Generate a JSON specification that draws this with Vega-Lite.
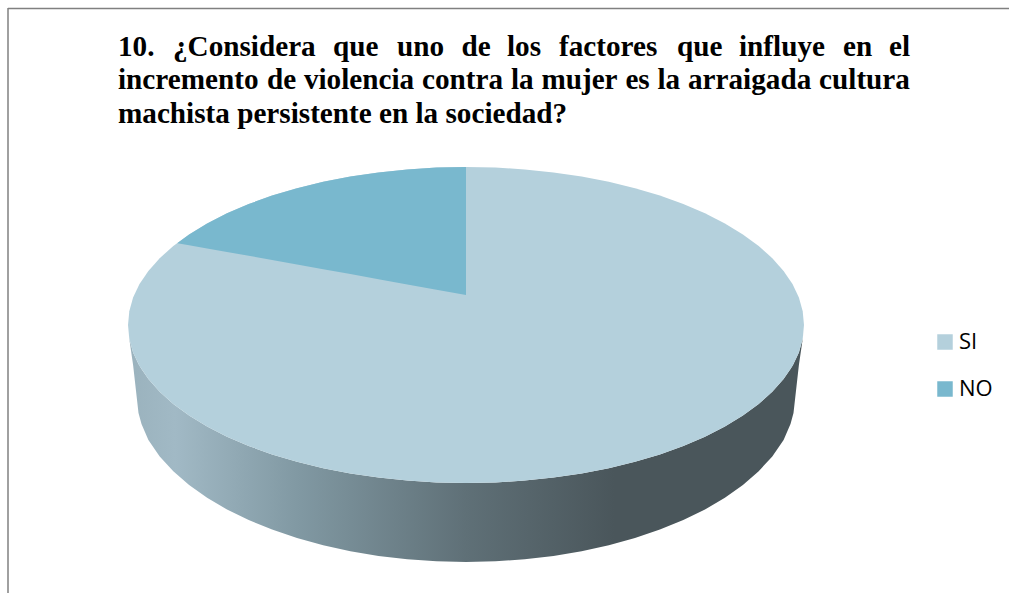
{
"$schema":"https://vega.github.io/schema/vega-lite/v6.json",
"width":1009,"height":593,"padding":0,"autosize":{"type":"none"},
"background":"#ffffff",
"view":{"stroke":null},
"config":{"view":{"stroke":null}},
"resolve":{"scale":{"x":"shared","y":"shared"}},
"layer":[
{"data":{"values":[
{"px":8,"px2":1009,"py":8.5,"py2":8.5},
{"px":8,"px2":8,"py":8,"py2":593}
]},
"mark":{"type":"rule","color":"#808080","strokeWidth":1.5},
"encoding":{
"x":{"field":"px","type":"quantitative","scale":{"domain":[0,1009],"nice":false,"zero":false},"axis":null},
"x2":{"field":"px2"},
"y":{"field":"py","type":"quantitative","scale":{"domain":[593,0],"nice":false,"zero":false},"axis":null},
"y2":{"field":"py2"}
}},
{"data":{"values":[
{"px":128,"top":325,"bottom":325},{"px":129.3,"top":338.8,"bottom":339},{"px":133.1,"top":352.4,"bottom":365},{"px":138.5,"top":364,"bottom":413},{"px":141.5,"top":369,"bottom":424},{"px":148.4,"top":379,"bottom":440.1},{"px":159.7,"top":391.8,"bottom":456.4},{"px":173.3,"top":404,"bottom":471.2},{"px":189.1,"top":415.6,"bottom":484.9},{"px":207.1,"top":426.6,"bottom":497.7},{"px":227,"top":436.7,"bottom":509.4},{"px":248.7,"top":446,"bottom":520},{"px":272.1,"top":454.4,"bottom":529.6},{"px":297,"top":461.8,"bottom":538},{"px":323.2,"top":468.2,"bottom":545.3},{"px":350.4,"top":473.5,"bottom":551.2},{"px":378.5,"top":477.6,"bottom":555.9},{"px":407.3,"top":480.6,"bottom":559.3},{"px":436.5,"top":482.4,"bottom":561.3},{"px":466,"top":483,"bottom":562},
{"px":495.5,"top":482.4,"bottom":561.3},{"px":524.7,"top":480.6,"bottom":559.3},{"px":553.5,"top":477.6,"bottom":555.9},{"px":581.6,"top":473.5,"bottom":551.2},{"px":608.8,"top":468.2,"bottom":545.3},{"px":635,"top":461.8,"bottom":538},{"px":659.9,"top":454.4,"bottom":529.6},{"px":683.3,"top":446,"bottom":520},{"px":705,"top":436.7,"bottom":509.4},{"px":724.9,"top":426.6,"bottom":497.7},{"px":742.9,"top":415.6,"bottom":484.9},{"px":758.7,"top":404,"bottom":471.2},{"px":772.3,"top":391.8,"bottom":456.4},{"px":783.6,"top":379,"bottom":440.1},{"px":790.5,"top":369,"bottom":424},{"px":793.5,"top":364,"bottom":413},{"px":798.9,"top":352.4,"bottom":365},{"px":802.7,"top":338.8,"bottom":339},{"px":804,"top":325,"bottom":325}
]},
"mark":{"type":"area","color":{"gradient":"linear","x1":0,"y1":0,"x2":1,"y2":0,"stops":[
{"offset":0,"color":"#9ab2bd"},{"offset":0.07,"color":"#a1b9c5"},{"offset":0.25,"color":"#8199a3"},{"offset":0.5,"color":"#5f7077"},{"offset":0.72,"color":"#4a565b"},{"offset":1,"color":"#4a565b"}]}},
"encoding":{
"x":{"field":"px","type":"quantitative"},
"y":{"field":"top","type":"quantitative"},
"y2":{"field":"bottom"}
}},
{"data":{"values":[
{"respuesta":"SI","px":128,"top":325,"bottom":325},{"respuesta":"SI","px":129.3,"top":311.2,"bottom":338.8},{"respuesta":"SI","px":133.1,"top":297.6,"bottom":352.4},{"respuesta":"SI","px":139.5,"top":284.1,"bottom":365.9},{"respuesta":"SI","px":148.4,"top":271,"bottom":379},{"respuesta":"SI","px":159.7,"top":258.2,"bottom":391.8},{"respuesta":"SI","px":173.3,"top":246,"bottom":404},{"respuesta":"SI","px":189.1,"top":234.4,"bottom":415.6},{"respuesta":"SI","px":207.1,"top":223.4,"bottom":426.6},{"respuesta":"SI","px":227,"top":213.3,"bottom":436.7},{"respuesta":"SI","px":248.7,"top":204,"bottom":446},{"respuesta":"SI","px":272.1,"top":195.6,"bottom":454.4},{"respuesta":"SI","px":297,"top":188.2,"bottom":461.8},{"respuesta":"SI","px":323.2,"top":181.8,"bottom":468.2},{"respuesta":"SI","px":350.4,"top":176.5,"bottom":473.5},{"respuesta":"SI","px":378.5,"top":172.4,"bottom":477.6},{"respuesta":"SI","px":407.3,"top":169.4,"bottom":480.6},{"respuesta":"SI","px":436.5,"top":167.6,"bottom":482.4},{"respuesta":"SI","px":466,"top":167,"bottom":483},
{"respuesta":"SI","px":495.5,"top":167.6,"bottom":482.4},{"respuesta":"SI","px":524.7,"top":169.4,"bottom":480.6},{"respuesta":"SI","px":553.5,"top":172.4,"bottom":477.6},{"respuesta":"SI","px":581.6,"top":176.5,"bottom":473.5},{"respuesta":"SI","px":608.8,"top":181.8,"bottom":468.2},{"respuesta":"SI","px":635,"top":188.2,"bottom":461.8},{"respuesta":"SI","px":659.9,"top":195.6,"bottom":454.4},{"respuesta":"SI","px":683.3,"top":204,"bottom":446},{"respuesta":"SI","px":705,"top":213.3,"bottom":436.7},{"respuesta":"SI","px":724.9,"top":223.4,"bottom":426.6},{"respuesta":"SI","px":742.9,"top":234.4,"bottom":415.6},{"respuesta":"SI","px":758.7,"top":246,"bottom":404},{"respuesta":"SI","px":772.3,"top":258.2,"bottom":391.8},{"respuesta":"SI","px":783.6,"top":271,"bottom":379},{"respuesta":"SI","px":792.5,"top":284.1,"bottom":365.9},{"respuesta":"SI","px":798.9,"top":297.6,"bottom":352.4},{"respuesta":"SI","px":802.7,"top":311.2,"bottom":338.8},{"respuesta":"SI","px":804,"top":325,"bottom":325},
{"respuesta":"NO","px":177.5,"top":243,"bottom":243.2},{"respuesta":"NO","px":189.1,"top":234.4,"bottom":245.2},{"respuesta":"NO","px":207.1,"top":223.4,"bottom":248.4},{"respuesta":"NO","px":227,"top":213.3,"bottom":251.9},{"respuesta":"NO","px":248.7,"top":204,"bottom":255.8},{"respuesta":"NO","px":272.1,"top":195.6,"bottom":260},{"respuesta":"NO","px":297,"top":188.2,"bottom":264.5},{"respuesta":"NO","px":323.2,"top":181.8,"bottom":269.2},{"respuesta":"NO","px":350.4,"top":176.5,"bottom":274.1},{"respuesta":"NO","px":378.5,"top":172.4,"bottom":279.2},{"respuesta":"NO","px":407.3,"top":169.4,"bottom":284.4},{"respuesta":"NO","px":436.5,"top":167.6,"bottom":289.7},{"respuesta":"NO","px":466,"top":167,"bottom":295}
]},
"mark":{"type":"area"},
"encoding":{
"x":{"field":"px","type":"quantitative"},
"y":{"field":"top","type":"quantitative"},
"y2":{"field":"bottom"},
"color":{"field":"respuesta","type":"nominal","scale":{"domain":["SI","NO"],"range":["#b4d0dc","#79b8ce"]},
"legend":{"title":null,"orient":"none","legendX":934,"legendY":331,"symbolType":"square","symbolSize":240,"symbolStrokeWidth":0,"rowPadding":25,"labelFontSize":22,"labelFont":"Open Sans","labelColor":"#000000","labelOffset":3}}
}},
{"data":{"values":[
{"word":"10.","px":118,"py":56},{"word":"¿Considera","px":173,"py":56},{"word":"que","px":333,"py":56},{"word":"uno","px":397,"py":56},{"word":"de","px":461.5,"py":56},{"word":"los","px":507,"py":56},{"word":"factores","px":559,"py":56},{"word":"que","px":677,"py":56},{"word":"influye","px":739,"py":56},{"word":"en","px":843,"py":56},{"word":"el","px":889,"py":56},
{"word":"incremento","px":118,"py":89},{"word":"de","px":266.9,"py":89},{"word":"violencia","px":303.9,"py":89},{"word":"contra","px":422,"py":89},{"word":"la","px":510.9,"py":89},{"word":"mujer","px":541.4,"py":89},{"word":"es","px":625.4,"py":89},{"word":"la","px":657.5,"py":89},{"word":"arraigada","px":688,"py":89},{"word":"cultura","px":819.1,"py":89},
{"word":"machista persistente en la sociedad?","px":118,"py":123}
]},
"mark":{"type":"text","align":"left","baseline":"alphabetic","font":"Liberation Serif","fontWeight":"bold","fontSize":29.2,"color":"#000000"},
"encoding":{
"x":{"field":"px","type":"quantitative"},
"y":{"field":"py","type":"quantitative"},
"text":{"field":"word","type":"nominal"}
}}
]
}
